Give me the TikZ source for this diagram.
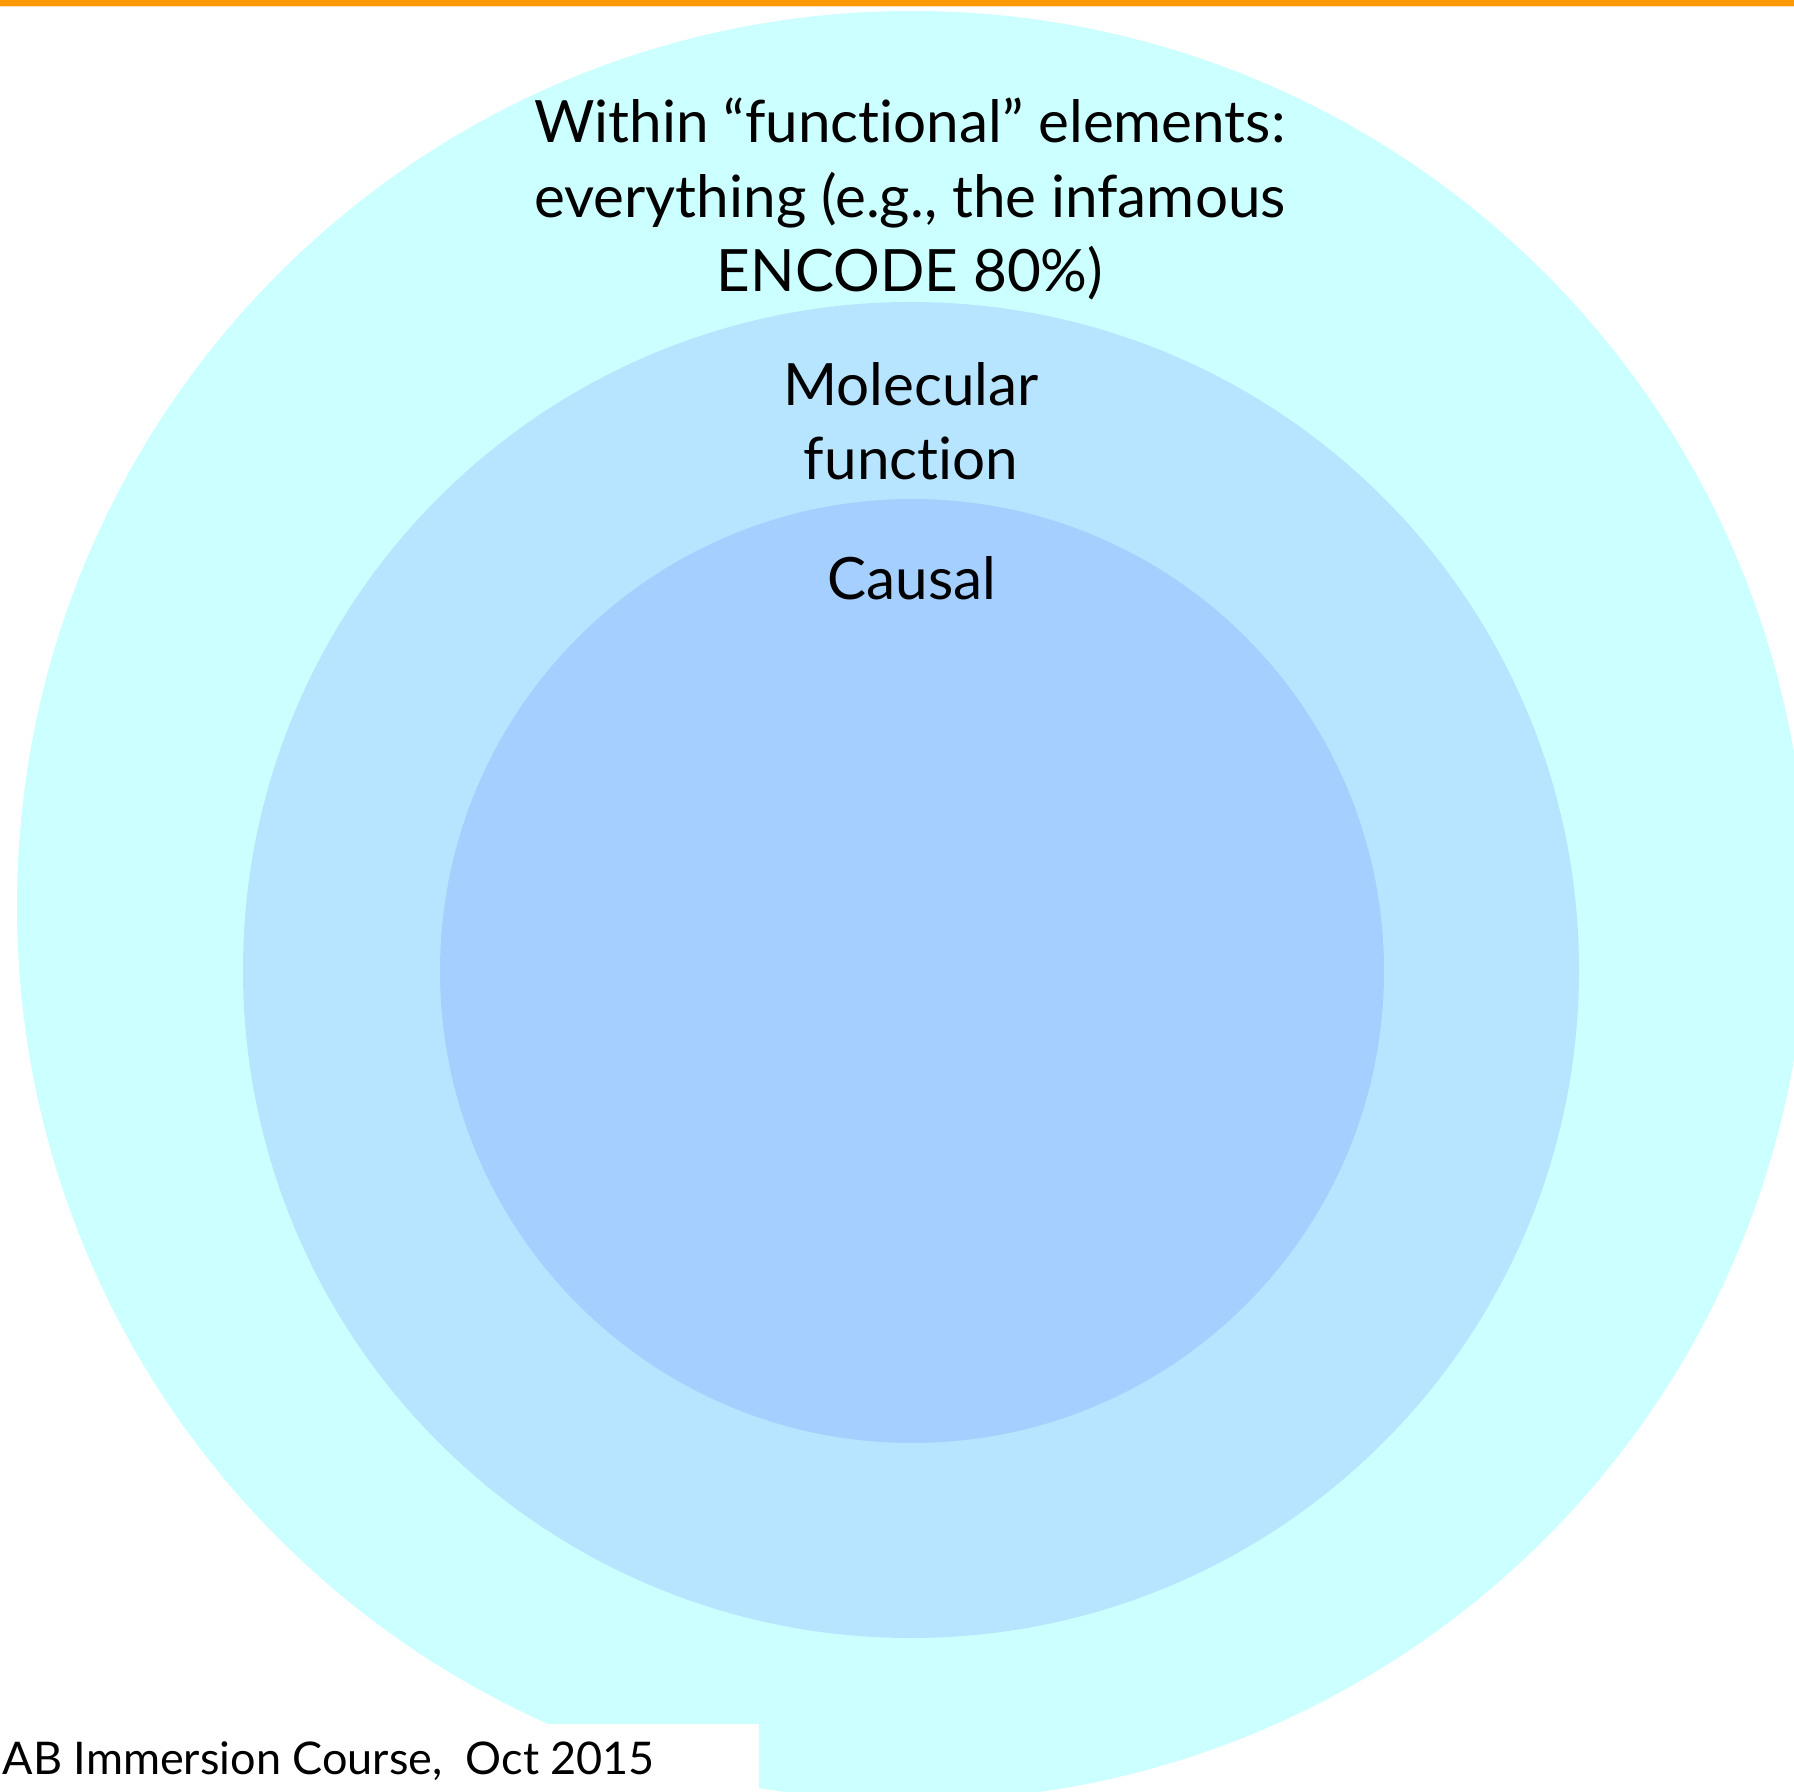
\documentclass[tikz,border=0pt]{standalone}
\usepackage{fontspec}
\setmainfont{Lato}[Ligatures=NoCommon]
\definecolor{outerring}{RGB}{204,255,255}
\definecolor{middlering}{RGB}{183,229,255}
\definecolor{innerring}{RGB}{165,207,255}
\definecolor{topbar}{RGB}{255,153,0}
\definecolor{topbarline}{RGB}{255,226,190}
\tikzset{
  label/.style={inner sep=0pt, anchor=base, align=center,
    font=\fontsize{16.6pt}{21.3pt}\selectfont},
  footer/.style={inner sep=0pt, anchor=base west,
    font=\fontsize{12.8pt}{15pt}\selectfont}
}
\begin{document}
\begin{tikzpicture}[x=0.01cm, y=-0.01cm]
  \useasboundingbox (0,0) rectangle (1794,1792);
  \begin{scope}
    \clip (0,0) rectangle (1794,1792);
    % nested circles
    \fill[outerring] (912,906) circle[radius=895];
    \fill[middlering] (911,970) circle[radius=668];
    \fill[innerring] (912,971) circle[radius=472];
    % footer strip covering the bottom left
    \fill[white] (0,1724) rectangle (759,1792);
    % header rule
    \fill[topbar] (0,0) rectangle (1794,6);
    \fill[topbarline] (0,6) rectangle (1794,7.5);
  \end{scope}
  % labels (anchored at the baseline of their last line)
  \node[label] (outerlabel) at (910,292)
    {Within “functional” elements:\\everything (e.g., the infamous\\ENCODE 80\%)};
  \node[label] (middlelabel) at (911,480) {Molecular\\function};
  \node[label] (innerlabel) at (912,600) {Causal};
  \node[footer] (footer) at (2,1774) {AB Immersion Course,\ \ Oct 2015};
\end{tikzpicture}
\end{document}
